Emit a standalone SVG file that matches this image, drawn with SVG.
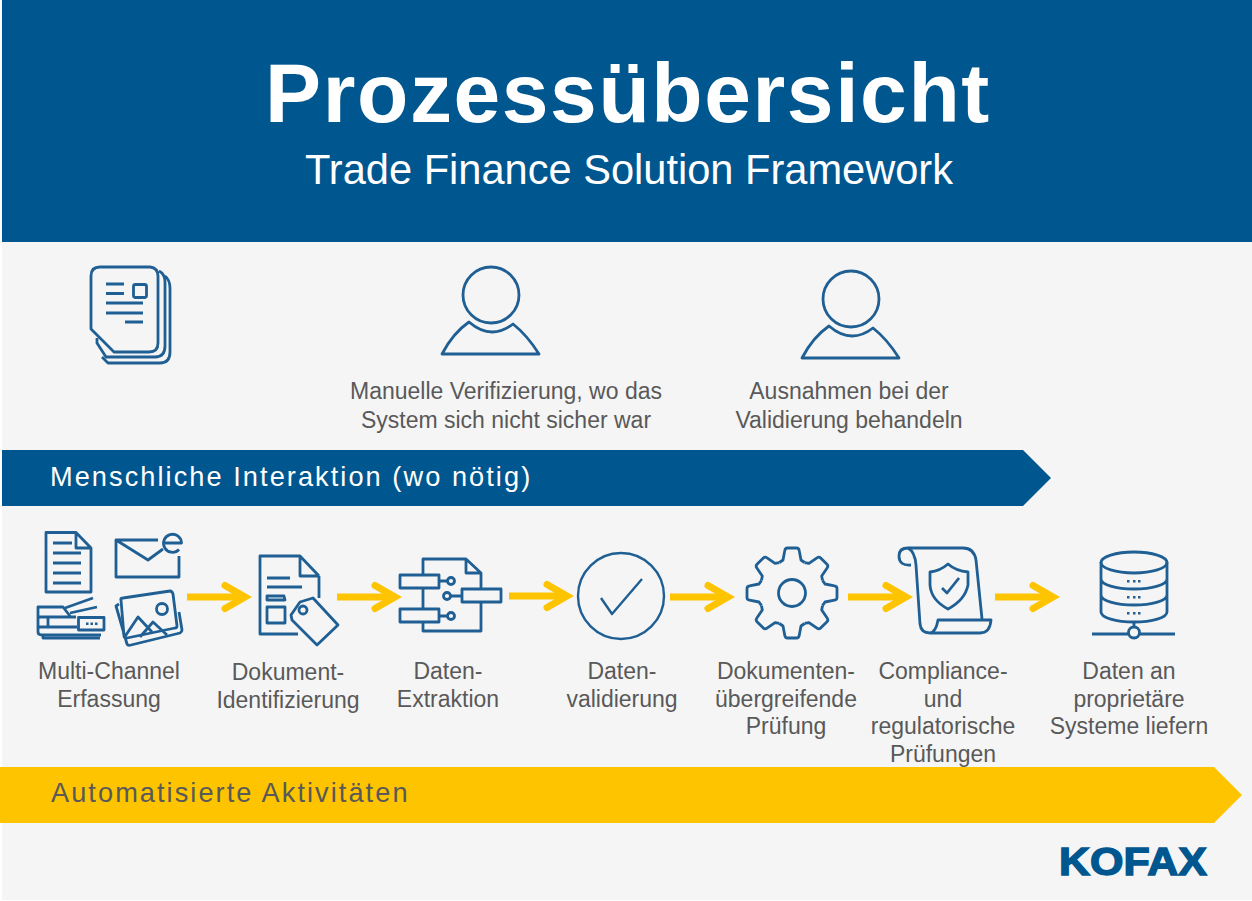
<svg xmlns="http://www.w3.org/2000/svg" width="1252" height="901" viewBox="0 0 1252 901">
<style>
text{font-family:"Liberation Sans",Arial,sans-serif}
.label{font-size:23px;fill:#595959;text-anchor:middle}
.i{fill:none;stroke:#1f5f93;stroke-width:2.8;stroke-linejoin:round;stroke-linecap:butt}
.t{stroke-width:2.4}
.a{fill:none;stroke:#ffc400;stroke-width:7;stroke-linejoin:miter;stroke-miterlimit:6}
.d{fill:#1f5f93}
</style>
<defs>
<g id="arrow"><path class="a" d="M0 0H58"/><path class="a" style="stroke-linecap:round" d="M38 -11.5L58 0L38 11.5"/></g>
<path id="tooth" d="M-12.6 -30.5L-9 -33L-7.2 -42.5Q-6.8 -45 -4.5 -45H4.5Q6.8 -45 7.2 -42.5L9 -33L12.6 -30.5"/>
<g id="person"><circle cx="0" cy="0" r="28"/><path d="M-49 59Q-38 38 -22 27Q0 46 22 29Q36 40 48 59Z"/></g>
</defs>
<rect width="1252" height="901" fill="#fff"/>
<rect x="2" y="0" width="1250" height="900" fill="#f5f5f5"/>
<g id="header">
<rect x="2" y="0" width="1250" height="242" fill="#00568f"/>
<text x="628" y="122" text-anchor="middle" font-size="84" font-weight="700" letter-spacing="1.6" fill="#fff">Prozessübersicht</text>
<text x="629" y="184" text-anchor="middle" font-size="41.6" fill="#fff">Trade Finance Solution Framework</text>
</g>
<g id="band-human">
<path d="M2 450H1023L1051 478L1023 506H2Z" fill="#00568f"/>
<text x="50" y="486" font-size="27.2" letter-spacing="2.05" fill="#fff">Menschliche Interaktion (wo nötig)</text>
</g>
<g id="band-auto">
<path d="M0 767H1214L1242 795L1214 823H0Z" fill="#ffc400"/>
<text x="51" y="802" font-size="27.2" letter-spacing="2.05" fill="#595959">Automatisierte Aktivitäten</text>
</g>
<g id="node-documents" class="i">
<path d="M91 329V276Q91 267 100 267H150Q158 268 158 276V343Q158 352 149 352H114Z"/>
<path d="M97 338V343L106 357H155Q165 357 165 346V282Q165 274 159 271"/>
<path d="M102 357L108 363H160Q170 363 170 352V288Q170 280 165 276"/>
<path d="M106 284H124M106 293.5H124M106 303H143M106 313H143M125 322H143"/>
<rect x="133.500" y="284.500" width="13" height="13" rx="2"/>
</g>
<g id="node-manual-verification">
<use href="#person" x="491" y="295" class="i"/>
<text class="label" x="506" y="399">Manuelle Verifizierung, wo das</text>
<text class="label" x="506" y="428">System sich nicht sicher war</text>
</g>
<g id="node-exceptions">
<use href="#person" x="851" y="299" class="i"/>
<text class="label" x="849" y="399">Ausnahmen bei der</text>
<text class="label" x="849" y="428">Validierung behandeln</text>
</g>
<g id="node-capture">
<g class="i">
<path d="M76 532.500H46V592H91V548L76 532.500V548H91"/>
<path d="M53 543H72M53 553H81M53 563H81M53 573H81M53 583H81"/>
<path d="M158 540H116V577H179V556M116 540L148 560L163 549"/>
<path d="M165 543H181.500A9 9 0 1 0 179 549.500"/>
<path d="M65 608L93 598M70 613L97 607"/>
<path d="M76 617H38V607H63L70 616M38 617V632Q38 635 42 635H101M38 627H77M48 617V627"/>
<rect x="78.500" y="617.500" width="25.500" height="12.500"/>
<path d="M43 635V638H100"/>
<path d="M121 600Q120 598 123 598L170 591Q172 591 173 594L177 626Q177 628 175 628L127 638Q124 638 124 636Z"/>
<path d="M119 604L116 606L127 644Q128 646 131 645L180 633Q182 632 182 630L179 612"/>
<circle cx="162" cy="609" r="5.500"/>
<path d="M124 638L138 617L152 632M140 637L153 622L167 635"/>
</g>
<g class="d"><rect x="86" y="622.500" width="2.500" height="2.500"/><rect x="90.500" y="622.500" width="2.500" height="2.500"/><rect x="95" y="622.500" width="2.500" height="2.500"/></g>
<text class="label" x="109" y="678.500">Multi-Channel</text>
<text class="label" x="109" y="706.500">Erfassung</text>
</g>
<g id="node-identification">
<g class="i">
<path d="M319 576V598M298 634H260V556H300L319 576M300 557V576H319"/>
<path d="M267 578H290M267 587H302"/>
<path d="M267 600V596H284L285 600ZM267 607H285V623H267Z"/>
<path d="M291 615L300 602L313 598L338 625L317 645L292 620Z"/>
<circle cx="303" cy="610" r="4"/>
</g>
<text class="label" x="288" y="680">Dokument-</text>
<text class="label" x="288" y="708">Identifizierung</text>
</g>
<g id="node-extraction">
<g class="i">
<path d="M423 574V559H466L481 573V589M466 559V573H481M423 588V609M423 622V631H481V602"/>
<rect x="400" y="575" width="39" height="13"/>
<rect x="462" y="589" width="39" height="13"/>
<rect x="400" y="609" width="39" height="13"/>
<path d="M439 581H447.500M462 596H451M439 616H447.500"/>
<circle cx="451" cy="581" r="3.500"/>
<circle cx="447" cy="596" r="3.500"/>
<circle cx="451" cy="616" r="3.500"/>
</g>
<text class="label" x="448" y="678.500">Daten-</text>
<text class="label" x="448" y="706.500">Extraktion</text>
</g>
<g id="node-validation">
<g class="i t">
<circle cx="621" cy="596" r="43"/>
<path d="M601 598L612 614L642 579"/>
</g>
<text class="label" x="622" y="678.500">Daten-</text>
<text class="label" x="622" y="706.500">validierung</text>
</g>
<g id="node-cross-check">
<g class="i" transform="translate(792 593)">
<use href="#tooth"/>
<use href="#tooth" transform="rotate(45)"/>
<use href="#tooth" transform="rotate(90)"/>
<use href="#tooth" transform="rotate(135)"/>
<use href="#tooth" transform="rotate(180)"/>
<use href="#tooth" transform="rotate(225)"/>
<use href="#tooth" transform="rotate(270)"/>
<use href="#tooth" transform="rotate(315)"/>
<circle r="13.500"/>
</g>
<text class="label" x="786" y="678.500">Dokumenten-</text>
<text class="label" x="786" y="706.500">übergreifende</text>
<text class="label" x="786" y="733.500">Prüfung</text>
</g>
<g id="node-compliance">
<g class="i">
<path d="M911 565Q899 566 899 556Q899 548 908 548H963Q974 548 976 560L982 619"/>
<path d="M908 548Q915 552 916 565L920 624Q921 633 930 633H980Q990 633 991 620H938Q936 632 930 633"/>
<path d="M948 564Q940 571 930 572V585Q931 600 948 609Q965 600 968 585V572Q956 571 948 564Z"/>
<path d="M942 588L947 593L959 578"/>
</g>
<text class="label" x="943" y="678.500">Compliance-</text>
<text class="label" x="943" y="706.500">und</text>
<text class="label" x="943" y="733.500">regulatorische</text>
<text class="label" x="943" y="761.500">Prüfungen</text>
</g>
<g id="node-deliver">
<g class="i">
<ellipse cx="1134" cy="562.500" rx="33" ry="10.500"/>
<path d="M1101 562V612A33 10 0 0 0 1167 612V562M1101 579A33 10 0 0 0 1167 579M1101 595A33 10 0 0 0 1167 595"/>
<path d="M1134 622V627M1092 634H1128.500M1139.500 634H1175"/>
<circle cx="1134" cy="632.500" r="5.500"/>
</g>
<g class="d">
<rect x="1127" y="580" width="2.500" height="2.500"/><rect x="1133" y="580" width="2.500" height="2.500"/><rect x="1138" y="580" width="2.500" height="2.500"/>
<rect x="1127" y="596" width="2.500" height="2.500"/><rect x="1133" y="596" width="2.500" height="2.500"/><rect x="1138" y="596" width="2.500" height="2.500"/>
<rect x="1127" y="612" width="2.500" height="2.500"/><rect x="1133" y="612" width="2.500" height="2.500"/><rect x="1138" y="612" width="2.500" height="2.500"/>
</g>
<text class="label" x="1129" y="678.500">Daten an</text>
<text class="label" x="1129" y="706.500">proprietäre</text>
<text class="label" x="1129" y="733.500">Systeme liefern</text>
</g>
<g id="connectors">
<use href="#arrow" x="187" y="597"/>
<use href="#arrow" x="337" y="597"/>
<use href="#arrow" x="509" y="596"/>
<use href="#arrow" x="670" y="597"/>
<use href="#arrow" x="848" y="597"/>
<use href="#arrow" x="995" y="597"/>
</g>
<g id="logo">
<text x="1059" y="875" font-size="38" font-weight="700" fill="#00568f" stroke="#00568f" stroke-width="1.4" textLength="148" lengthAdjust="spacingAndGlyphs">KOFAX</text>
</g>
</svg>
